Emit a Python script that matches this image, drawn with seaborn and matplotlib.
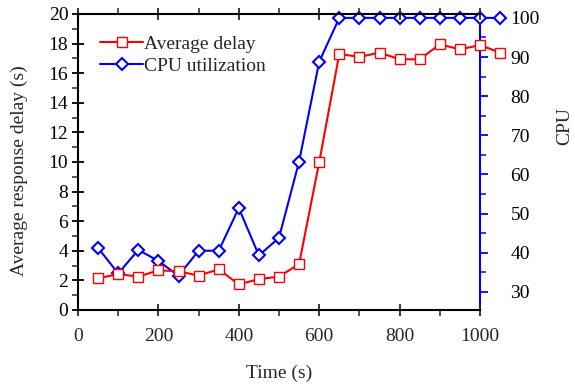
import numpy as np
import pandas as pd
import matplotlib
matplotlib.use("Agg")
import matplotlib.pyplot as plt
import seaborn as sns
from matplotlib.ticker import MultipleLocator

time_s = [50, 100, 150, 200, 250, 300, 350, 400, 450, 500, 550, 600,
          650, 700, 750, 800, 850, 900, 950, 1000, 1050]
avg_delay = [2.14, 2.43, 2.25, 2.68, 2.62, 2.32, 2.75, 1.73, 2.09, 2.25, 3.11, 9.98,
             17.3, 17.1, 17.39, 16.94, 16.94, 17.95, 17.61, 17.9, 17.39]
cpu_util = [41.2, 34.7, 40.7, 37.9, 34.1, 40.5, 40.5, 51.4, 39.3, 43.8, 63.3, 88.8,
            100, 100, 100, 100, 100, 100, 100, 100, 100]

df = pd.DataFrame({"time": time_s, "delay": avg_delay, "cpu": cpu_util})

sns.set_theme(style="ticks")
plt.rcParams['font.family'] = ['Liberation Serif', 'DejaVu Serif']
FS = 14

fig = plt.figure(figsize=(5.75, 3.85), dpi=100)
ax = fig.add_axes([78/575, 1-310/385, (480-78)/575, (310-14)/385])
ax2 = ax.twinx()

sns.lineplot(data=df, x="time", y="delay", ax=ax, color="red", marker="s",
             markersize=7, markerfacecolor="white", markeredgecolor="red",
             markeredgewidth=1.0, linewidth=1.5, label="Average delay", legend=False,
             clip_on=False, zorder=3)
sns.lineplot(data=df, x="time", y="cpu", ax=ax2, color="blue", marker="D",
             markersize=6.5, markerfacecolor="white", markeredgecolor="blue",
             markeredgewidth=1.5, linewidth=1.5, label="CPU utilization", legend=False,
             clip_on=False, zorder=3)

ax.set_xlim(0, 1000)
ax.set_ylim(0, 20)
ax2.set_ylim(25.35, 101)

ax.xaxis.set_major_locator(MultipleLocator(200))
ax.xaxis.set_minor_locator(MultipleLocator(100))
ax.yaxis.set_major_locator(MultipleLocator(2))
ax.yaxis.set_minor_locator(MultipleLocator(1))
ax2.yaxis.set_major_locator(MultipleLocator(10))
ax2.yaxis.set_minor_locator(MultipleLocator(5))

for s in ["left", "bottom", "top"]:
    ax.spines[s].set_color("black")
    ax.spines[s].set_linewidth(1.5)
ax2.spines["right"].set_color("blue")
ax2.spines["right"].set_linewidth(1.5)
for s in ["left", "bottom", "top"]:
    ax2.spines[s].set_visible(False)
ax.spines["right"].set_visible(False)

ax.tick_params(axis="y", which="major", direction="inout", length=8, width=1.3, colors="black", labelsize=FS, pad=3)
ax.tick_params(axis="y", which="minor", direction="out", length=4, width=1.1)
ax.tick_params(axis="x", which="major", direction="inout", length=8, width=1.3, labelsize=FS, pad=9)
ax.tick_params(axis="x", which="minor", direction="out", length=4, width=1.1)
ax.tick_params(axis="x", which="both", top=True, labeltop=False)
ax2.tick_params(axis="y", which="major", direction="out", length=6, width=1.3,
                color="blue", labelcolor="black", labelsize=FS, pad=16)
ax2.tick_params(axis="y", which="minor", direction="out", length=4, width=1.1, color="blue")

ax.set_xlabel("Time (s)", fontsize=FS, labelpad=14)
ax.set_ylabel("Average response delay (s)", fontsize=FS)
ax2.set_ylabel("CPU", fontsize=FS)
ax.yaxis.set_label_coords(-0.125, 0.47)
ax2.yaxis.set_label_coords(1.19, 0.62)

h1, l1 = ax.get_legend_handles_labels()
h2, l2 = ax2.get_legend_handles_labels()
ax.legend(h1 + h2, l1 + l2, loc="upper left", bbox_to_anchor=(0.022, 0.975),
          frameon=False, fontsize=FS, handlelength=2.2, handletextpad=0.05,
          labelspacing=0.25, borderaxespad=0.3)

ax.set_zorder(ax2.get_zorder() + 1)
ax.patch.set_visible(False)

fig.savefig("out.png", dpi=100)
